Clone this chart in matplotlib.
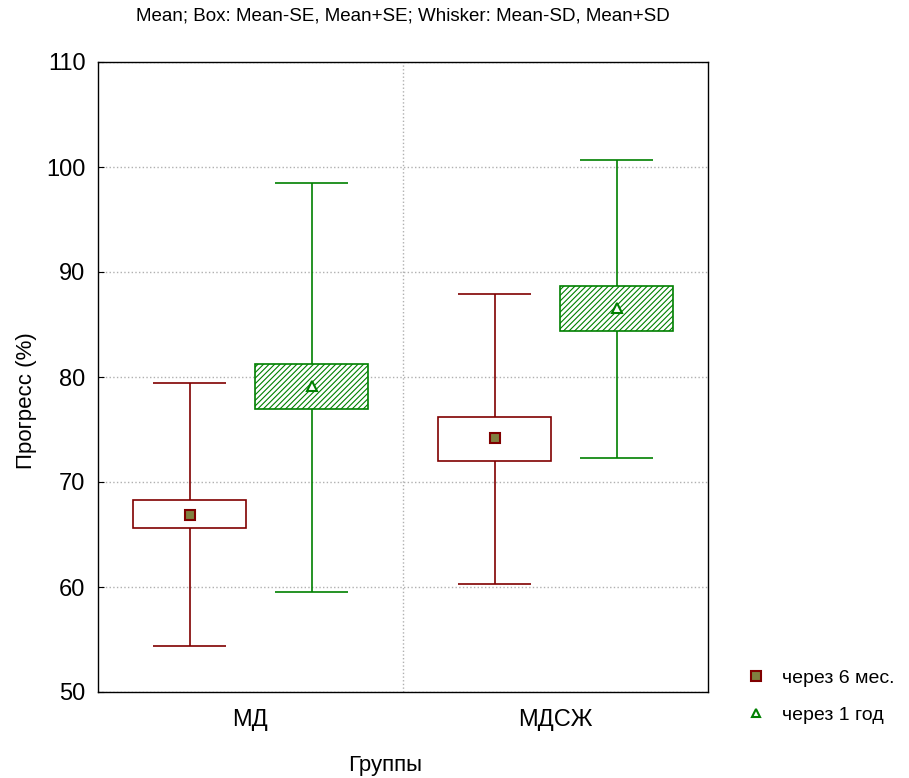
import matplotlib
matplotlib.use('Agg')
import matplotlib.pyplot as plt
from matplotlib.lines import Line2D

groups = ['МД', 'МДСЖ']
series = ['через 6 мес.', 'через 1 год']

mean_6m = [66.9, 74.2]
se_lo_6m = [65.6, 72.0]
se_hi_6m = [68.3, 76.2]
sd_lo_6m = [54.4, 60.3]
sd_hi_6m = [79.4, 87.9]

mean_1y = [79.1, 86.6]
se_lo_1y = [77.0, 84.4]
se_hi_1y = [81.2, 88.7]
sd_lo_1y = [59.5, 72.3]
sd_hi_1y = [98.5, 100.7]

plt.rcParams['font.family'] = ['Liberation Sans', 'DejaVu Sans']
plt.rcParams['hatch.linewidth'] = 0.8

fig = plt.figure(figsize=(9.09, 7.78), dpi=100)
ax = fig.add_axes([98 / 909, 86 / 778, 610 / 909, 630 / 778])

offset = 0.2
box_w = 0.37
cap_w = 0.24

red = '#800000'
green = '#008000'

def draw_series(xs, mean, se_lo, se_hi, sd_lo, sd_hi, color, hatch, marker, mface):
    heights = [h - l for h, l in zip(se_hi, se_lo)]
    ax.bar(xs, heights, bottom=se_lo, width=box_w, facecolor='white',
           edgecolor=color, hatch=hatch, linewidth=1.2, zorder=3)
    ax.vlines(xs, sd_lo, se_lo, color=color, lw=1.2, zorder=3)
    ax.vlines(xs, se_hi, sd_hi, color=color, lw=1.2, zorder=3)
    ax.hlines(sd_lo, [x - cap_w / 2 for x in xs], [x + cap_w / 2 for x in xs], color=color, lw=1.2, zorder=3)
    ax.hlines(sd_hi, [x - cap_w / 2 for x in xs], [x + cap_w / 2 for x in xs], color=color, lw=1.2, zorder=3)
    ax.plot(xs, mean, ls='none', marker=marker, ms=7, mfc=mface, mec=color, mew=1.5, zorder=4)

x6 = [i - offset for i in range(len(groups))]
x1 = [i + offset for i in range(len(groups))]
draw_series(x6, mean_6m, se_lo_6m, se_hi_6m, sd_lo_6m, sd_hi_6m, red, None, 's', '#808040')
draw_series(x1, mean_1y, se_lo_1y, se_hi_1y, sd_lo_1y, sd_hi_1y, green, '//////', '^', 'white')

ax.set_xlim(-0.5, 1.5)
ax.set_ylim(50, 110)
ax.set_yticks(range(50, 111, 10))
ax.set_xticks(range(len(groups)))
ax.set_xticklabels(groups)
ax.tick_params(axis='both', labelsize=17, direction='in', length=4)
ax.tick_params(axis='y', pad=9)
ax.tick_params(axis='x', length=0, pad=12)
ax.grid(axis='y', color='#b0b0b0', ls=':', lw=1)
ax.axvline(0.5, color='#b0b0b0', ls=':', lw=1, zorder=0)
ax.set_axisbelow(True)
for s in ax.spines.values():
    s.set_linewidth(1)

ax.set_title('Mean; Box: Mean-SE, Mean+SE; Whisker: Mean-SD, Mean+SD', fontsize=13.5, pad=30)
ax.set_xlabel('Группы', fontsize=16)
ax.xaxis.set_label_coords(0.47, -0.1)
ax.set_ylabel('Прогресс (%)', fontsize=16)
ax.yaxis.set_label_coords(-0.1, 0.463)

handles = [
    Line2D([], [], ls='none', marker='s', ms=7, mfc='#808040', mec=red, mew=1.5),
    Line2D([], [], ls='none', marker='^', ms=6, mfc='white', mec=green, mew=1.5),
]
fig.legend(handles, series, loc='center left', bbox_to_anchor=(719 / 909, 1 - 696.5 / 778),
           frameon=False, fontsize=14, handletextpad=0.35, labelspacing=1.0)

fig.savefig('out.png', dpi=100)
